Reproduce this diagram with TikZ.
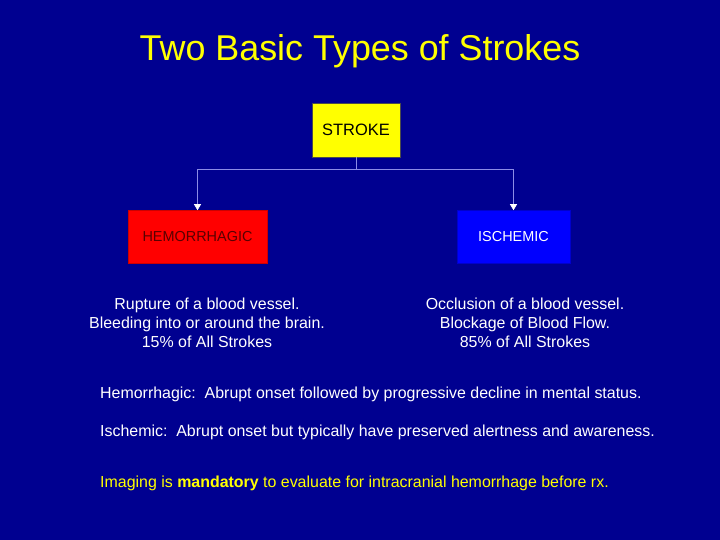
\documentclass[tikz,border=0pt]{standalone}
\usepackage{fontspec}
\setmainfont{Liberation Sans}
\usepackage{xcolor}
\usetikzlibrary{positioning, arrows.meta}

\definecolor{slidebg}{HTML}{000090}
\definecolor{slideyellow}{HTML}{FFFF00}
\definecolor{linkline}{HTML}{8C8CE6}
\definecolor{hemred}{HTML}{FF0000}
\definecolor{ischblue}{HTML}{0000FF}

\begin{document}
\begin{tikzpicture}[
    x=1bp, y=-1bp,
    typebox/.style={rectangle, draw=black!70, line width=0.6bp, inner sep=0pt, align=center},
    note/.style={align=center, text=white, font=\fontsize{16}{19}\selectfont},
    remark/.style={anchor=west, inner sep=0pt, text=white, font=\fontsize{16}{18}\selectfont},
    arrow/.style={-{Triangle[length=6bp, width=7bp, color=white]}, draw=linkline, line width=0.7bp}
]

% background
\fill[slidebg] (0,0) rectangle (720,540);
\useasboundingbox (0,0) rectangle (720,540);

% title
\node[text=slideyellow, font=\fontsize{36}{40}\selectfont] (title) at (360,51) {Two Basic Types of Strokes};

% boxes
\node[typebox, fill=slideyellow, minimum width=88bp, minimum height=54bp, font=\fontsize{16.5}{20}\selectfont] (stroke) at (356,130) {STROKE};
\node[typebox, fill=hemred, draw=hemred!80!black, minimum width=139bp, minimum height=53bp, text=red!35!black, font=\fontsize{14.5}{18}\selectfont] (hem) at (197.5,237) {HEMORRHAGIC};
\node[typebox, fill=ischblue, draw=ischblue!80!black, minimum width=113bp, minimum height=53bp, text=white, font=\fontsize{14.5}{18}\selectfont] (isch) at (513.5,237) {ISCHEMIC};

% connectors
\coordinate (split) at (356,169);
\draw[linkline, line width=0.7bp] (stroke.south) -- (split);
\draw[arrow] (split) -| (hem.north);
\draw[arrow] (split) -| (isch.north);

% descriptions
\node[note] (hemtext) at (207,323) {Rupture of a blood vessel.\\Bleeding into or around the brain.\\15\% of All Strokes};
\node[note] (ischtext) at (525,323) {Occlusion of a blood vessel.\\Blockage of Blood Flow.\\85\% of All Strokes};

% remarks
\node[remark] (hemnote) at (100,394) {Hemorrhagic:\ \ Abrupt onset followed by progressive decline in mental status.};
\node[remark] (ischnote) at (100,432) {Ischemic:\ \ Abrupt onset but typically have preserved alertness and awareness.};
\node[remark, text=slideyellow] (imaging) at (100,483) {Imaging is \textbf{mandatory} to evaluate for intracranial hemorrhage before rx.};

\end{tikzpicture}
\end{document}
